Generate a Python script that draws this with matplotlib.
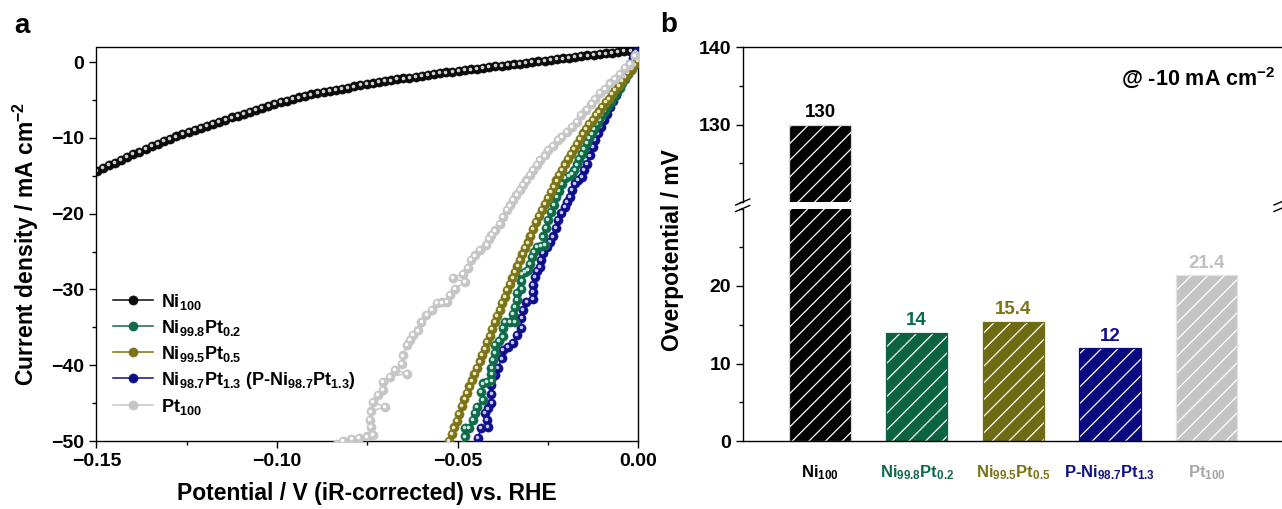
import matplotlib
matplotlib.use('Agg')
import matplotlib.pyplot as plt
from matplotlib.lines import Line2D
from matplotlib.transforms import ScaledTranslation
from matplotlib.ticker import MultipleLocator, FuncFormatter

plt.rcParams['font.family'] = 'Liberation Sans'
plt.rcParams['font.weight'] = 'bold'
plt.rcParams['mathtext.fontset'] = 'custom'
plt.rcParams['mathtext.rm'] = 'Liberation Sans:bold'
plt.rcParams['mathtext.bf'] = 'Liberation Sans:bold'
plt.rcParams['mathtext.it'] = 'Liberation Sans:bold'
plt.rcParams['mathtext.default'] = 'rm'
plt.rcParams['hatch.linewidth'] = 0.9
plt.rcParams['axes.linewidth'] = 1.0

# ---- panel a: LSV curves (potential in mV, current density in mA cm-2) ----
ni100_mv = [-151.7, -150.0, -148.3, -146.6, -144.9, -143.2, -141.5, -139.8, -138.1, -136.4, -134.7,
            -133.0, -131.3, -129.6, -127.9, -126.2, -124.5, -122.8, -121.1, -119.4, -117.7,
            -116.0, -114.3, -112.6, -110.9, -109.2, -107.5, -105.8, -104.1, -102.4, -100.7,
            -99.0, -97.3, -95.6, -93.9, -92.2, -90.5, -88.8, -87.1, -85.4, -83.7,
            -82.0, -80.3, -78.6, -76.9, -75.2, -73.5, -71.8, -70.1, -68.4, -66.7,
            -65.0, -63.3, -61.6, -59.9, -58.2, -56.5, -54.8, -53.1, -51.4, -49.7,
            -48.0, -46.3, -44.6, -42.9, -41.2, -39.5, -37.8, -36.1, -34.4, -32.7,
            -31.0, -29.3, -27.6, -25.9, -24.2, -22.5, -20.8, -19.1, -17.4, -15.7,
            -14.0, -12.3, -10.6, -8.9, -7.2, -5.5, -3.8, -2.1, -0.4]
ni100_j = [-14.8, -14.4, -14.0, -13.6, -13.25, -12.9, -12.5, -12.15, -11.8, -11.45, -11.1,
           -10.8, -10.45, -10.15, -9.8, -9.5, -9.25, -8.95, -8.7, -8.4, -8.15,
           -7.85, -7.6, -7.3, -7.05, -6.8, -6.55, -6.3, -6.0, -5.75, -5.5,
           -5.3, -5.1, -4.9, -4.65, -4.45, -4.25, -4.1, -3.95, -3.8, -3.65,
           -3.5, -3.35, -3.2, -3.05, -2.9, -2.8, -2.65, -2.5, -2.4, -2.25,
           -2.15, -2.05, -1.9, -1.8, -1.7, -1.6, -1.45, -1.35, -1.25, -1.15,
           -1.05, -0.95, -0.85, -0.75, -0.65, -0.55, -0.45, -0.35, -0.3, -0.2,
           -0.1, 0.0, 0.1, 0.2, 0.3, 0.4, 0.5, 0.6, 0.7, 0.8,
           0.9, 0.95, 1.05, 1.15, 1.25, 1.35, 1.45, 1.5, 1.6]

pt02_mv = [-0.3, -1.1, -1.9, -2.7, -3.5, -4.3, -5.1, -5.9, -6.7, -7.5, -8.3, -9.1, -9.9,
           -10.7, -11.4, -12.1, -12.8, -13.5, -14.2, -14.9, -15.6, -16.3, -17.0, -17.6,
           -18.2, -19.2, -20.3, -21.0, -21.8, -22.6, -23.4, -24.1, -24.9, -25.5, -26.3,
           -25.8, -27.0, -28.1, -28.8, -29.5, -30.0, -30.4, -31.4, -32.3, -32.3, -32.3,
           -33.6, -33.6, -34.1, -34.6, -34.1, -35.5, -36.9, -37.4, -37.4, -38.5, -39.7,
           -39.7, -40.1, -40.6, -40.6, -40.6, -41.8, -42.9, -43.4, -42.9, -44.7, -45.2,
           -45.7, -46.9, -48.0, -48.0, -48.6]
pt02_j = [0.2, -0.4, -1.0, -1.6, -2.2, -2.8, -3.4, -4.0, -4.6, -5.2, -5.8, -6.4, -7.0,
          -7.6, -8.2, -8.8, -9.4, -10.0, -10.7, -11.4, -12.1, -12.8, -13.5, -14.2,
          -14.8, -15.0, -15.3, -16.1, -17.0, -17.8, -18.8, -19.8, -20.8, -21.9, -23.0,
          -24.1, -24.2, -24.4, -25.0, -25.7, -26.6, -27.4, -27.7, -27.9, -28.9, -29.9,
          -30.5, -31.4, -32.3, -33.2, -34.3, -34.3, -34.3, -35.1, -36.2, -36.8, -37.3,
          -38.4, -39.3, -40.4, -41.2, -42.0, -42.2, -42.4, -43.5, -44.6, -45.5, -46.3,
          -47.2, -48.3, -48.3, -49.4, -50.5]

pt05_mv = [0.0, -0.9, -1.8, -2.7, -3.6, -4.5, -5.4, -6.3, -7.2, -8.1,
           -9.0, -9.9, -10.8, -11.7, -12.6, -13.5, -14.4, -15.3, -16.2, -17.0,
           -17.8, -18.6, -19.4, -20.2, -21.0, -21.8, -22.6, -23.4, -24.2, -25.0,
           -25.8, -26.6, -27.4, -28.2, -29.0, -29.8, -30.6, -31.3, -32.0, -32.7,
           -33.4, -34.1, -34.8, -35.5, -36.2, -36.9, -37.6, -38.3, -39.0, -39.7,
           -40.4, -41.1, -41.8, -42.5, -43.2, -43.9, -44.6, -45.3, -46.0, -46.7,
           -47.4, -48.1, -48.8, -49.5, -50.2, -50.9, -51.6, -52.3, -53.0]
pt05_j = [0.2, -0.3, -0.9, -1.4, -2.0, -2.5, -3.1, -3.6, -4.2, -4.8,
          -5.3, -5.9, -6.5, -7.0, -7.6, -8.2, -8.8, -9.4, -10.1, -10.8,
          -11.4, -12.1, -12.8, -13.5, -14.2, -14.9, -15.6, -16.4, -17.1, -17.9,
          -18.7, -19.5, -20.3, -21.1, -22.0, -22.9, -23.8, -24.5, -25.3, -26.1,
          -26.9, -27.7, -28.5, -29.3, -30.1, -31.0, -31.8, -32.7, -33.5, -34.3,
          -35.2, -36.1, -36.9, -37.8, -38.6, -39.5, -40.3, -41.2, -42.0, -42.8,
          -43.7, -44.5, -45.4, -46.4, -47.3, -48.2, -49.1, -50.0, -50.9]

pt13_mv = [-0.6, -1.4, -2.2, -3.0, -3.8, -4.6, -5.4, -6.2, -7.0, -7.8, -8.6, -9.4, -10.2,
           -11.0, -11.9, -12.6, -13.4, -14.2, -14.9, -15.6, -16.6, -17.5, -18.2, -18.9,
           -19.6, -20.3, -21.2, -22.1, -22.8, -23.5, -24.3, -25.1, -26.3, -26.8, -27.2,
           -28.0, -28.6, -29.0, -29.0, -29.2, -30.9, -31.8, -32.3, -32.3, -33.6, -34.6,
           -36.0, -37.4, -37.8, -38.7, -39.7, -40.6, -40.6, -40.6, -41.5, -42.4, -41.8,
           -41.5, -43.4, -44.3, -45.0]
pt13_j = [1.4, 0.6, -0.2, -1.0, -1.8, -2.6, -3.4, -4.3, -5.1, -5.9, -6.8, -7.6, -8.5,
          -9.4, -10.3, -11.2, -12.3, -13.4, -14.2, -15.1, -15.5, -16.0, -16.9, -17.8,
          -18.5, -19.1, -19.9, -20.8, -21.9, -23.0, -23.7, -24.4, -25.2, -26.1, -27.0,
          -27.6, -28.3, -29.4, -30.3, -31.2, -31.6, -32.7, -33.8, -35.1, -36.0, -37.1,
          -37.6, -38.0, -39.1, -40.4, -41.3, -42.6, -43.8, -45.0, -45.7, -46.3, -47.2,
          -48.1, -48.3, -49.6, -50.6]

pt100_mv = [-0.8, -2.2, -3.6, -5.0, -6.4, -7.8, -9.2, -10.6, -12.0, -12.9, -14.3, -15.7,
            -17.0, -18.4, -19.8, -21.2, -22.1, -23.5, -24.9, -25.8, -27.2, -28.1, -29.1,
            -30.0, -30.9, -31.8, -32.7, -33.7, -34.6, -35.5, -36.4, -37.4, -38.3, -39.7,
            -40.6, -41.3, -42.0, -43.8, -45.2, -46.2, -47.1, -48.5, -51.3, -48.0, -50.7,
            -52.1, -53.0, -54.4, -55.8, -57.2, -58.6, -60.0, -60.9, -62.3, -63.2, -64.1,
            -65.1, -65.5, -67.4, -64.1, -68.8, -70.6, -70.6, -72.0, -73.4, -70.2, -73.9,
            -74.3, -73.9, -73.4, -75.2, -77.3, -79.4, -81.7, -83.5]
pt100_j = [0.9, -0.2, -0.8, -1.5, -2.2, -2.8, -3.5, -4.1, -4.8, -5.5, -6.3, -7.0,
           -7.9, -8.5, -9.2, -9.9, -10.3, -11.0, -11.6, -12.3, -12.9, -13.6, -14.2,
           -14.9, -15.6, -16.2, -16.9, -17.5, -18.2, -18.9, -19.5, -20.4, -21.3, -22.2,
           -22.8, -23.3, -24.1, -24.8, -25.5, -26.1, -27.2, -27.9, -28.5, -29.0, -29.9,
           -30.7, -31.6, -31.7, -31.8, -32.7, -33.4, -34.3, -35.4, -36.0, -36.7, -37.3,
           -38.7, -39.8, -40.6, -41.1, -41.5, -42.2, -43.3, -43.9, -44.8, -45.5, -46.1,
           -47.2, -48.1, -49.2, -49.4, -49.6, -49.7, -50.0, -50.4]

legend_labels = ['Ni$_{100}$', 'Ni$_{99.8}$Pt$_{0.2}$', 'Ni$_{99.5}$Pt$_{0.5}$',
                 'Ni$_{98.7}$Pt$_{1.3}$ (P-Ni$_{98.7}$Pt$_{1.3}$)', 'Pt$_{100}$']

# ---- panel b: overpotential at -10 mA cm-2 ----
samples = ['Ni$_{100}$', 'Ni$_{99.8}$Pt$_{0.2}$', 'Ni$_{99.5}$Pt$_{0.5}$',
           'P-Ni$_{98.7}$Pt$_{1.3}$', 'Pt$_{100}$']
overpotential = [130, 14, 15.4, 12, 21.4]
value_labels = ['130', '14', '15.4', '12', '21.4']

W, H = 1282, 509
fig = plt.figure(figsize=(W / 100, H / 100), dpi=100)


def fx(px):
    return px / W


def fy(py):
    return 1 - py / H


ax = fig.add_axes([fx(96.5), fy(441), fx(638) - fx(96.5), fy(47) - fy(441)])
shift = ScaledTranslation(-0.6 / 72, 0.6 / 72, fig.dpi_scale_trans)

styles = {
    'ni100': ('#0a0a0a', '#d0d0d0'),
    'pt02': ('#0d6b4a', '#cfe6dc'),
    'pt05': ('#7a7416', '#ece8c4'),
    'pt13': ('#0e0e8c', '#c8c8f2'),
    'pt100': ('#c6c6c6', '#ffffff'),
}
MS = 6.6
MS_HI = 2.6


def draw_series(mv, j, key, z):
    c, light = styles[key]
    v = [m / 1000 for m in mv]
    ax.plot(v, j, color=c, lw=1.1, marker='o', ms=MS, mfc=c, mec=c, mew=0.4, zorder=z)
    ax.plot(v, j, ls='none', marker='o', ms=MS_HI, mfc=light, mec='none', zorder=z + 0.5,
            transform=ax.transData + shift)


draw_series(ni100_mv, ni100_j, 'ni100', 2)
draw_series(pt13_mv, pt13_j, 'pt13', 3)
draw_series(pt02_mv, pt02_j, 'pt02', 4)
draw_series(pt05_mv, pt05_j, 'pt05', 5)
draw_series(pt100_mv, pt100_j, 'pt100', 6)

ax.set_xlim(-0.15, 0.0)
ax.set_ylim(-50, 2)
ax.xaxis.set_major_locator(MultipleLocator(0.05))
ax.xaxis.set_minor_locator(MultipleLocator(0.025))
ax.yaxis.set_major_locator(MultipleLocator(10))
ax.yaxis.set_minor_locator(MultipleLocator(5))


def fmt_x(v, pos):
    if abs(v) < 1e-9:
        v = 0.0
    return f'{v:.2f}'.replace('-', '\u2212')


ax.xaxis.set_major_formatter(FuncFormatter(fmt_x))
ax.tick_params(which='major', direction='out', length=5, width=1, labelsize=14, pad=4)
ax.tick_params(which='minor', direction='out', length=3, width=1)
ax.set_xlabel('Potential / V (iR-corrected) vs. RHE', fontsize=16.5, fontweight='bold')
ax.set_ylabel('Current density / mA cm$^{-2}$', fontsize=16.5, fontweight='bold')
ax.xaxis.set_label_coords(0.5, -0.105)
ax.yaxis.set_label_coords(-0.102, 0.5)

handles = []
for key in ['ni100', 'pt02', 'pt05', 'pt13', 'pt100']:
    c, light = styles[key]
    handles.append(Line2D([], [], color=c, lw=1.1, marker='o', ms=MS, mfc=c, mec=c, mew=0.4))
leg = ax.legend(handles, legend_labels, loc='lower left', bbox_to_anchor=(0.03, 0.062),
                frameon=False, prop={'size': 13, 'weight': 'bold'}, handlelength=2.25,
                handletextpad=0.45, labelspacing=0.33, borderpad=0, borderaxespad=0,
                numpoints=1)

fig.text(fx(22), fy(26), 'a', fontsize=20, fontweight='bold', ha='center', va='center')
fig.text(fx(669), fy(25), 'b', fontsize=20, fontweight='bold', ha='center', va='center')

# ---- panel b with broken axis ----
bl, br = 742.7, 1284
ax_top = fig.add_axes([fx(bl), fy(202), fx(br) - fx(bl), fy(47) - fy(202)])
ax_bot = fig.add_axes([fx(bl), fy(441), fx(br) - fx(bl), fy(208.5) - fy(441)])

pos = [1, 2, 3, 4, 5]
bar_colors = ['#000000', '#0a6341', '#6f6b12', '#0a0a80', '#c4c4c4']
border_colors = ['#d6d6d6', '#0a6341', '#6f6b12', '#0a0a80', '#e2e2e2']
text_colors = ['#000000', '#0d6b4a', '#7a7416', '#10108c', '#c0c0c0']
tick_colors = ['#000000', '#0d6b4a', '#7a7416', '#10108c', '#a6a6a6']

for a in (ax_top, ax_bot):
    a.bar(pos, overpotential, width=0.636, color=bar_colors, edgecolor='white',
          hatch='//', linewidth=0)
    a.bar(pos, overpotential, width=0.636, fill=False, edgecolor=border_colors, linewidth=0.9)
    a.set_xlim(0.2, 5.8)
    a.spines['right'].set_visible(False)
    a.tick_params(which='major', direction='out', length=5, width=1, labelsize=14)
    a.tick_params(which='minor', direction='out', length=3, width=1)

ax_top.set_ylim(120, 140)
ax_top.set_yticks([130, 140])
ax_top.yaxis.set_minor_locator(MultipleLocator(5))
ax_top.spines['bottom'].set_visible(False)
ax_top.tick_params(axis='x', which='both', bottom=False, labelbottom=False)

ax_bot.set_ylim(0, 30)
ax_bot.set_yticks([0, 10, 20])
ax_bot.yaxis.set_minor_locator(MultipleLocator(5))
ax_bot.spines['top'].set_visible(False)
ax_bot.set_xticks(pos, samples)
ax_bot.tick_params(axis='x', length=0, labelsize=12, pad=16)
for lab, c in zip(ax_bot.get_xticklabels(), tick_colors):
    lab.set_color(c)

for i, (p, val) in enumerate(zip(pos, overpotential)):
    target = ax_top if val > 30 else ax_bot
    target.annotate(value_labels[i], (p, val), xytext=(0, 2.5), textcoords='offset points',
                    ha='center', va='bottom', fontsize=13.5, fontweight='bold',
                    color=text_colors[i])

ax_top.text(0.985, 0.80, '@ -10 mA cm$^{-2}$', transform=ax_top.transAxes,
            ha='right', va='center', fontsize=15.5, fontweight='bold')

fig.text(fx(673), fy(250), 'Overpotential / mV', rotation=90, ha='center', va='center',
         fontsize=16.5, fontweight='bold')

# break marks on the y axis
for xb in (bl, 1281):
    for yb in (202, 208.5):
        fig.add_artist(Line2D([fx(xb - 7), fx(xb + 7)], [fy(yb + 3), fy(yb - 3)],
                              color='black', lw=1.0, transform=fig.transFigure))

fig.savefig('out.png', dpi=100)
